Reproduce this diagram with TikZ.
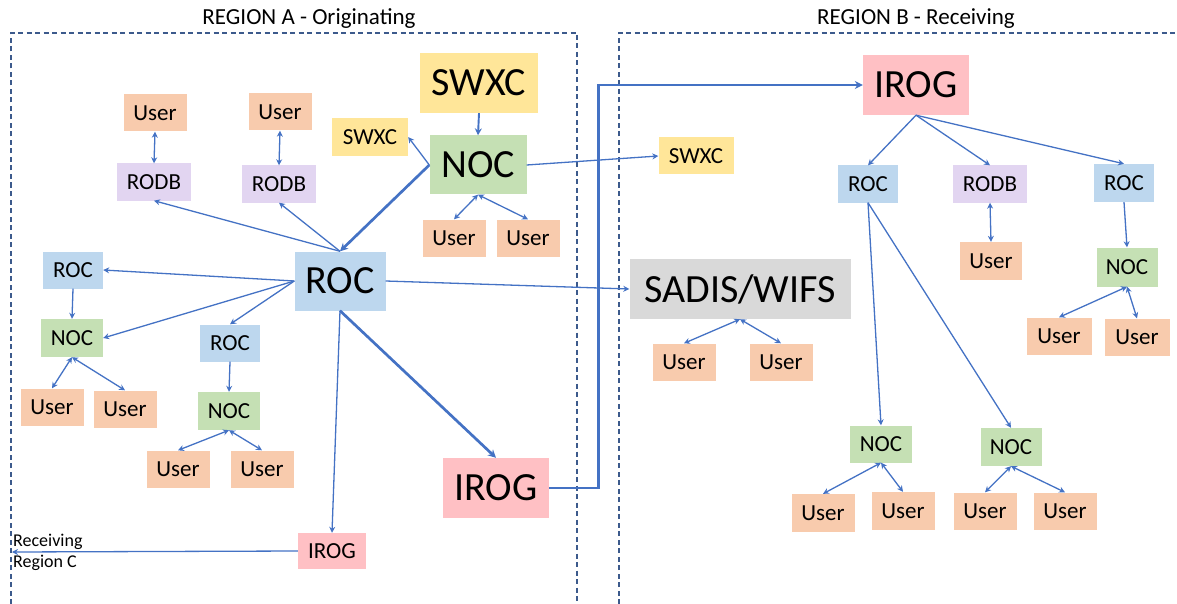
\documentclass[tikz,border=0pt]{standalone}
\usepackage{fontspec}
\setmainfont{Carlito}
\usetikzlibrary{arrows.meta}
\definecolor{cUser}{HTML}{F8CBAD}
\definecolor{cRodb}{HTML}{E2D5F1}
\definecolor{cRoc}{HTML}{BDD7EE}
\definecolor{cNoc}{HTML}{C5E0B4}
\definecolor{cSwxc}{HTML}{FFE699}
\definecolor{cIrog}{HTML}{FFC0C4}
\definecolor{cSadis}{HTML}{D9D9D9}
\definecolor{cLine}{HTML}{4472C4}
\definecolor{cDash}{HTML}{3C5A8C}
\tikzset{
  box/.style={inner sep=0pt, text=black, font=\fontsize{23}{23}\selectfont},
  bigbox/.style={box, font=\fontsize{40}{40}\selectfont},
  user/.style={box, fill=cUser, minimum width=63pt, minimum height=37pt},
  rodb/.style={box, fill=cRodb, minimum width=74pt, minimum height=37pt},
  roc/.style={box, fill=cRoc, minimum width=60pt, minimum height=37pt},
  noc/.style={box, fill=cNoc, minimum width=62pt, minimum height=38pt},
  swxc/.style={box, fill=cSwxc, minimum width=76pt, minimum height=38pt},
  irog/.style={box, fill=cIrog, minimum width=68pt, minimum height=36pt},
  title/.style={inner sep=0pt, text=black, font=\fontsize{23}{23}\selectfont},
  regionline/.style={draw=cDash, line width=1.1pt, dash pattern=on 5pt off 3.5pt},
  arr/.style={draw=cLine, line width=1.3pt, -{Stealth[length=6pt,width=6pt]}},
  darr/.style={draw=cLine, line width=1.3pt, {Stealth[length=6pt,width=6pt]}-{Stealth[length=6pt,width=6pt]}},
  marr/.style={draw=cLine, line width=1.9pt, -{Stealth[length=7pt,width=7pt]}},
  thk/.style={draw=cLine, line width=2.7pt, -{Stealth[length=8pt,width=8pt]}},
}
\begin{document}
\begin{tikzpicture}[x=1pt,y=-1pt]
\useasboundingbox (0,0) rectangle (1177,604);
% regions
\draw[regionline] (11,604) -- (11,33) -- (577,33) -- (577,604);
\draw[regionline] (619,604) -- (619,33) -- (1177,33);
\node[title] (tA) at (309,19) {REGION A - Originating};
\node[title] (tB) at (916,19) {REGION B - Receiving};

% Region A nodes
\node[bigbox, fill=cSwxc, minimum width=118pt, minimum height=60pt] (swxcA) at (479,83) {SWXC};
\node[bigbox, fill=cNoc, minimum width=97pt, minimum height=59pt] (nocA) at (478,165) {NOC};
\node[swxc] (swxcS) at (370,137) {SWXC};
\node[user] (uA1) at (454,238) {User};
\node[user] (uA2) at (528,238) {User};
\node[user] (u1) at (155,113) {User};
\node[rodb] (rodb1) at (154,182) {RODB};
\node[user] (u2) at (280,112) {User};
\node[rodb] (rodb2) at (279,184) {RODB};
\node[bigbox, fill=cRoc, minimum width=91pt, minimum height=59pt] (rocA) at (340,281) {ROC};
\node[roc] (rocL) at (73,270) {ROC};
\node[noc] (nocL) at (72,338) {NOC};
\node[user] (uL1) at (52,407) {User};
\node[user] (uL2) at (125,409) {User};
\node[roc] (rocM) at (230,343) {ROC};
\node[noc] (nocM) at (229,411) {NOC};
\node[user] (uM1) at (178,469) {User};
\node[user] (uM2) at (262,469) {User};
\node[bigbox, fill=cIrog, minimum width=106pt, minimum height=60pt] (irogA) at (496,488) {IROG};
\node[irog] (irogS) at (332,551) {IROG};
\node[inner sep=0pt, align=left, anchor=west, font=\fontsize{18}{21}\selectfont] (recv) at (13,552) {Receiving\\Region C};
\coordinate (recvC) at (12,552);

% Region B nodes
\node[bigbox, fill=cIrog, minimum width=106pt, minimum height=60pt] (irogB) at (916,85) {IROG};
\node[swxc, minimum width=75pt, minimum height=37pt] (swxcB) at (696,156) {SWXC};
\node[bigbox, fill=cSadis, minimum width=221pt, minimum height=60pt] (sadis) at (740,289) {SADIS/WIFS};
\node[user] (uS1) at (684,362) {User};
\node[user] (uS2) at (781,362) {User};
\node[roc] (rocB1) at (868,184) {ROC};
\node[rodb] (rodbB) at (990,184) {RODB};
\node[roc, minimum height=38pt] (rocB2) at (1124,183) {ROC};
\node[user, minimum width=62pt, minimum height=38pt] (uB) at (991,261) {User};
\node[noc, minimum width=61pt, minimum height=39pt] (nocB3) at (1127,267) {NOC};
\node[user, minimum width=65pt] (uR1) at (1059,336) {User};
\node[user, minimum width=65pt] (uR2) at (1137,337) {User};
\node[noc, minimum height=37pt] (nocB1) at (881,444) {NOC};
\node[noc, minimum width=61pt] (nocB2) at (1011,447) {NOC};
\node[user, minimum height=38pt] (uB1a) at (823,513) {User};
\node[user, minimum height=38pt] (uB1b) at (903,511) {User};
\node[user] (uB2a) at (985,511) {User};
\node[user] (uB2b) at (1065,511) {User};

% Region A connectors
\draw[marr] (swxcA.south) -- (nocA.north);
\draw[arr] (nocA.west) -- (swxcS.east);
\draw[thk] (nocA.west) -- (rocA.north);
\draw[arr] (nocA.east) -- (swxcB.west);
\draw[darr] (nocA.south) -- (uA1.north);
\draw[darr] (nocA.south) -- (uA2.north);
\draw[arr] (rocA.north) -- (rodb1.south);
\draw[arr] (rocA.north) -- (rodb2.south);
\draw[darr] (rodb1.north) -- (u1.south);
\draw[darr] (rodb2.north) -- (u2.south);
\draw[arr] (rocA.west) -- (rocL.east);
\draw[arr] (rocA.west) -- (nocL.east);
\draw[arr] (rocA.west) -- (rocM.north);
\draw[arr] (rocL.south) -- (nocL.north);
\draw[darr] (nocL.south) -- (uL1.north);
\draw[darr] (nocL.south) -- (uL2.north);
\draw[arr] (rocM.south) -- (nocM.north);
\draw[darr] (nocM.south) -- (uM1.north);
\draw[darr] (nocM.south) -- (uM2.north);
\draw[thk] (rocA.south) -- (irogA.north);
\draw[arr] (rocA.south) -- (irogS.north);
\draw[arr] (rocA.east) -- (sadis.west);
\draw[arr] (irogS.west) -- (recvC);
\draw[thk] (irogA.east) -- ++(49,0) |- (irogB.west);

% Region B connectors
\draw[arr] (irogB.south) -- (rocB1.north);
\draw[arr] (irogB.south) -- (rodbB.north);
\draw[arr] (irogB.south) -- (rocB2.north);
\draw[arr] (rocB1.south) -- (nocB1.north);
\draw[arr] (rocB1.south) -- (nocB2.north);
\draw[darr] (rodbB.south) -- (uB.north);
\draw[arr] (rocB2.south) -- (nocB3.north);
\draw[darr] (nocB3.south) -- (uR1.north);
\draw[darr] (nocB3.south) -- (uR2.north);
\draw[darr] (sadis.south) -- (uS1.north);
\draw[darr] (sadis.south) -- (uS2.north);
\draw[darr] (nocB1.south) -- (uB1a.north);
\draw[darr] (nocB1.south) -- (uB1b.north);
\draw[darr] (nocB2.south) -- (uB2a.north);
\draw[darr] (nocB2.south) -- (uB2b.north);
\end{tikzpicture}
\end{document}
